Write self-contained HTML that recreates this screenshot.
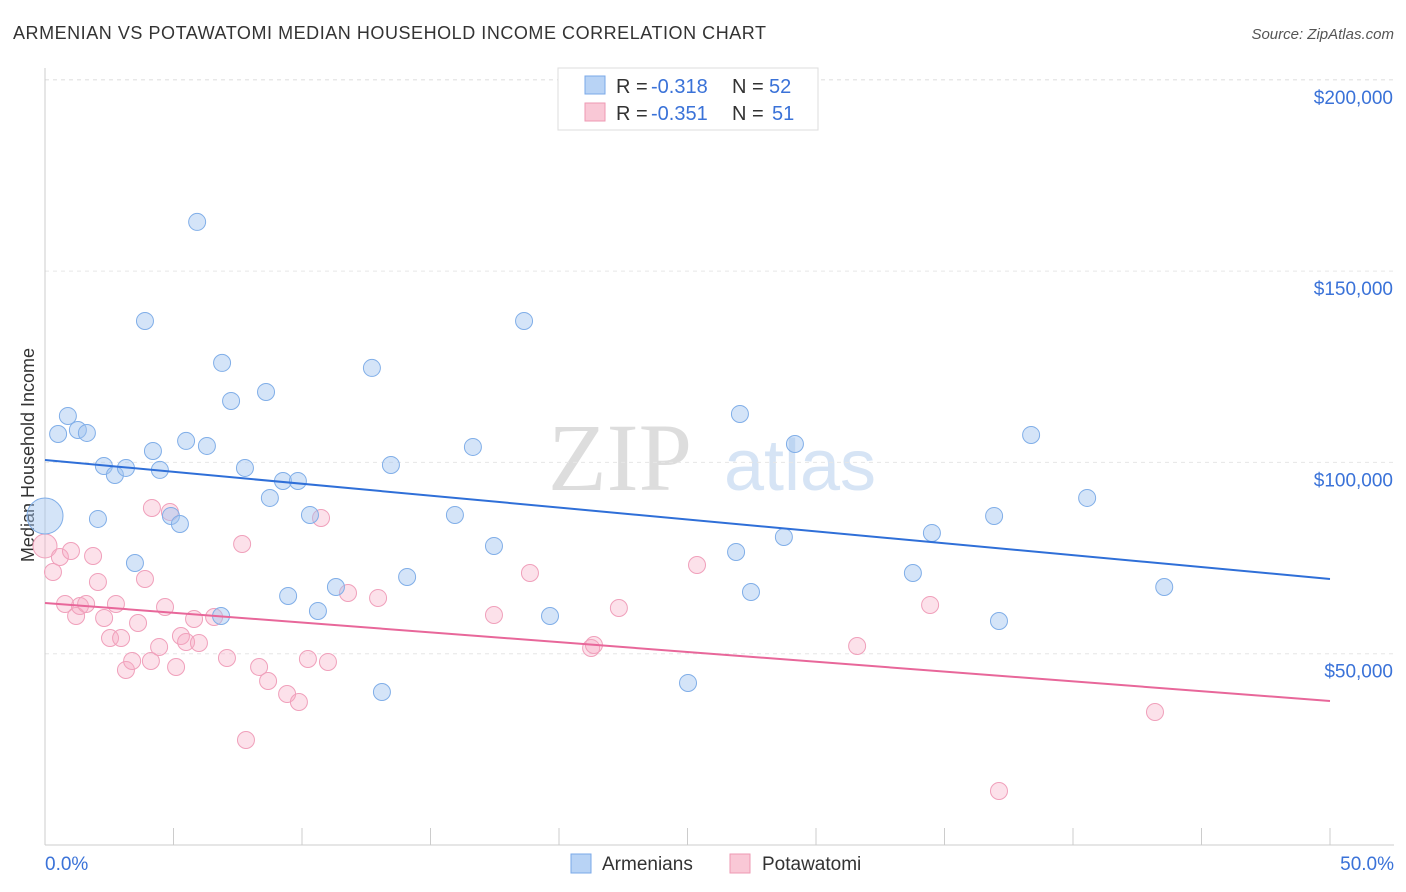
<!DOCTYPE html>
<html><head><meta charset="utf-8"><style>
body{margin:0;background:#fff;font-family:"Liberation Sans",sans-serif;}
svg{display:block}
</style></head><body>
<svg id="c" width="1406" height="892">
<text x="13" y="39" font-size="18" fill="#333" textLength="753">ARMENIAN VS POTAWATOMI MEDIAN HOUSEHOLD INCOME CORRELATION CHART</text>
<text x="1394" y="39" font-size="15" fill="#555" font-style="italic" text-anchor="end">Source: ZipAtlas.com</text>
<text x="620" y="490" font-size="96" fill="#ddd" font-family="Liberation Serif" text-anchor="middle">ZIP</text>
<text x="800" y="490" font-size="72" fill="#d6e4f5" text-anchor="middle">atlas</text>
<text transform="translate(34,455) rotate(-90)" font-size="18" fill="#333" text-anchor="middle">Median Household Income</text>
<g id="grid"></g><g id="pts"></g><g id="lines"></g>
<g>
<rect x="558" y="68" width="260" height="62" fill="#fff" stroke="#ddd"/>
<rect x="585" y="76" width="20" height="18" fill="#b8d3f5" stroke="#7aa8e8"/>
<rect x="585" y="103" width="20" height="18" fill="#f9c8d6" stroke="#ee99b3"/>
<text x="616" y="93" font-size="20" fill="#333">R =</text>
<text x="651" y="93" font-size="20" fill="#3a72d8">-0.318</text>
<text x="732" y="93" font-size="20" fill="#333">N =</text>
<text x="769" y="93" font-size="20" fill="#3a72d8">52</text>
<text x="616" y="120" font-size="20" fill="#333">R =</text>
<text x="651" y="120" font-size="20" fill="#3a72d8">-0.351</text>
<text x="732" y="120" font-size="20" fill="#333">N =</text>
<text x="772" y="120" font-size="20" fill="#3a72d8">51</text>
</g>
<g>
<rect x="571" y="854" width="20" height="19" fill="#b8d3f5" stroke="#7aa8e8"/>
<text x="602" y="870" font-size="19" fill="#333">Armenians</text>
<rect x="730" y="854" width="20" height="19" fill="#f9c8d6" stroke="#ee99b3"/>
<text x="762" y="870" font-size="19" fill="#333">Potawatomi</text>
</g>
<text x="45" y="870" font-size="19" fill="#3a72d8">0.0%</text>
<text x="1394" y="870" font-size="19" fill="#3a72d8" text-anchor="end">50.0%</text>
</svg>
<script>
const yTicks=[50000,100000,150000,200000];
const yTickLabels=["$50,000","$100,000","$150,000","$200,000"];
const blueX=[0,0.51,0.89,1.28,1.63,2.06,2.29,2.72,3.15,3.5,3.89,4.2,4.47,4.9,5.25,5.49,5.92,6.3,6.85,6.89,7.24,7.78,8.6,8.75,9.26,9.46,9.84,10.31,10.62,11.32,12.72,13.11,13.46,14.09,15.95,16.65,17.47,18.64,19.65,25.02,26.89,27.04,27.47,28.75,29.18,33.77,34.51,36.93,37.12,38.37,40.55,43.55];
const blueY=[86000,107430,112140,108480,107700,85220,99070,96720,98550,73710,136970,102990,98030,86000,83910,105610,162850,104300,59860,126000,116060,98550,118410,90710,95150,65090,95150,86260,61170,67440,124690,39990,99330,70060,86260,104040,78160,136970,59860,42350,76590,112660,66130,80510,104820,71100,81560,86000,58550,107170,90710,67440];
const pinkX=[0,0.31,0.58,0.78,1.01,1.21,1.36,1.6,1.87,2.06,2.3,2.53,2.76,2.96,3.15,3.39,3.62,3.89,4.12,4.16,4.44,4.67,4.86,5.1,5.29,5.49,5.8,5.99,6.58,7.08,7.67,7.82,8.33,8.68,9.42,9.88,10.23,10.74,11.01,11.79,12.96,17.47,18.87,21.25,21.36,22.33,25.37,31.6,34.44,37.12,43.19];
const pinkY=[78160,71360,75280,63000,76850,59860,62470,63000,75540,68750,59340,54110,63000,54110,45750,48100,58030,69530,48100,88090,51760,62210,87050,46530,54630,53060,59080,52800,59600,48880,78680,27450,46530,42870,39470,37380,48620,85480,47840,65870,64570,60120,71100,51500,52280,61950,73190,52020,62740,14120,34770];
const blueTrend=[100640,69530];
const pinkTrend=[63260,37640];
const NS="http://www.w3.org/2000/svg";
const X=p=>45+p/50*1285, Y=v=>845-v/50000*191.3;
function mk(t,a,par){const e=document.createElementNS(NS,t);for(const k in a)e.setAttribute(k,a[k]);document.getElementById(par).appendChild(e);return e;}
let l=mk('line',{x1:45,x2:1394,y1:Y(200000),y2:Y(200000),stroke:'#ddd','stroke-dasharray':'4,4'},'grid');


yTicks.forEach((v,i)=>{
 const g=mk('line',{x1:45,x2:1394,y1:Y(v),y2:Y(v),stroke:'#e6e6e6','stroke-dasharray':'4,4'},'grid');
 
 
 const t=mk('text',{x:1393,y:Y(v)+24,'font-size':19,fill:'#3a72d8','text-anchor':'end'},'grid');
 t.textContent=yTickLabels[i];
 
 
});
const ax=mk('line',{x1:45,x2:45,y1:68,y2:845,stroke:'#ccc'},'grid');


const bx=mk('line',{x1:45,x2:1394,y1:845,y2:845,stroke:'#ccc'},'grid');


for(let p=0;p<=50;p+=5){const t=mk('line',{x1:X(p),x2:X(p),y1:845,y2:828,stroke:'#ccc'},'grid');
 
 }
pinkX.forEach((x,i)=>{const c=mk('circle',{cx:X(x),cy:Y(pinkY[i]),r:i==0?12:8.5,fill:'rgba(246,170,195,0.35)',stroke:'#f0a0bb','stroke-width':1},'pts');
 
 });
blueX.forEach((x,i)=>{const c=mk('circle',{cx:X(x),cy:Y(blueY[i]),r:i==0?18:8.5,fill:'rgba(160,195,240,0.45)',stroke:'#80aee8','stroke-width':1},'pts');
 
 });
const bl=mk('line',{x1:X(0),x2:X(50),y1:Y(blueTrend[0]),y2:Y(blueTrend[1]),stroke:'#2f6fd8','stroke-width':2},'lines');


const pl=mk('line',{x1:X(0),x2:X(50),y1:Y(pinkTrend[0]),y2:Y(pinkTrend[1]),stroke:'#e8679a','stroke-width':2},'lines');


</script>
</body></html>
